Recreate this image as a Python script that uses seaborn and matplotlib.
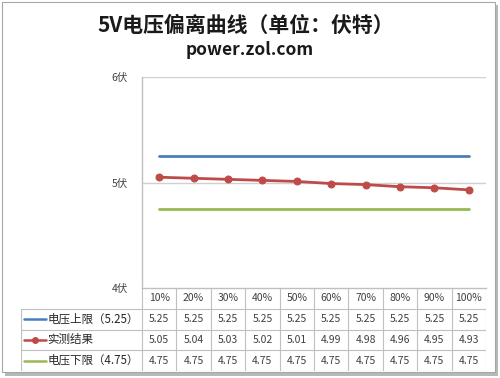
import pandas as pd
import seaborn as sns
import matplotlib.pyplot as plt
from matplotlib.patches import Rectangle
from matplotlib.lines import Line2D

sns.set_style("white")
plt.rcParams['font.family'] = ['Noto Sans CJK SC', 'DejaVu Sans']

# data
loads = ['10%', '20%', '30%', '40%', '50%', '60%', '70%', '80%', '90%', '100%']
upper = [5.25, 5.25, 5.25, 5.25, 5.25, 5.25, 5.25, 5.25, 5.25, 5.25]
measured = [5.05, 5.04, 5.03, 5.02, 5.01, 4.99, 4.98, 4.96, 4.95, 4.93]
lower = [4.75, 4.75, 4.75, 4.75, 4.75, 4.75, 4.75, 4.75, 4.75, 4.75]
series_names = ['电压上限（5.25）', '实测结果', '电压下限（4.75）']
yticks = [4, 5, 6]

colors = ['#4a7ebb', '#be4b48', '#98b954']
grid_c = '#d0d0d0'
text_c = '#404040'

W, H = 500, 378
fig = plt.figure(figsize=(W / 100, H / 100), dpi=100)

# background frame with shadow
bg = fig.add_axes([0, 0, 1, 1], zorder=-5)
bg.set_xlim(0, W)
bg.set_ylim(H, 0)
bg.axis('off')
bg.add_patch(Rectangle((5, 5), 493, 371, facecolor='#b8b8b8', edgecolor='none'))
bg.add_patch(Rectangle((2, 2), 493, 370, facecolor='white', edgecolor='#a6a6a6', lw=0.8))

fig.text(0.492, 1 - 25 / H, '5V电压偏离曲线（单位：伏特）', ha='center', va='center',
         fontsize=15, fontweight='bold', color='#1a1a1a')
fig.text(0.5, 1 - 50 / H, 'power.zol.com', ha='center', va='center',
         fontsize=12.5, fontweight='bold', color='#1a1a1a')

# main plot area
px_l, px_r, px_t, px_b = 142, 486, 77, 288
ax = fig.add_axes([px_l / W, 1 - px_b / H, (px_r - px_l) / W, (px_b - px_t) / H])
ax.patch.set_alpha(0)

df = pd.DataFrame({'x': range(len(loads)), 'upper': upper,
                   'measured': measured, 'lower': lower})
sns.lineplot(data=df, x='x', y='upper', color=colors[0], lw=2, ax=ax)
sns.lineplot(data=df, x='x', y='measured', color=colors[1], lw=2,
             marker='o', markersize=5, markeredgecolor=colors[1], ax=ax)
sns.lineplot(data=df, x='x', y='lower', color=colors[2], lw=2, ax=ax)

ax.set_xlim(-0.5, len(loads) - 0.5)
ax.set_ylim(4, 6)
ax.set_yticks(yticks)
ax.set_yticklabels([f'{v}伏' for v in yticks], fontsize=7.5, color=text_c)
ax.set_xticks([])
ax.set_xlabel('')
ax.set_ylabel('')
ax.tick_params(axis='y', length=0, pad=10)
for y in yticks[1:]:
    ax.axhline(y, color=grid_c, lw=1, zorder=0)
for s in ['top', 'right']:
    ax.spines[s].set_visible(False)
for s in ['left', 'bottom']:
    ax.spines[s].set_color('#bfbfbf')
    ax.spines[s].set_linewidth(1)

# data table below the plot
col_w = (px_r - px_l) / len(loads)
tb_l, tb_b = 21, 371
x0 = -0.5 - (px_l - tb_l) / col_w
tax = fig.add_axes([tb_l / W, 1 - tb_b / H, (px_r - tb_l) / W, (tb_b - px_b) / H])
tax.set_xlim(x0, len(loads) - 0.5)
tax.set_ylim(4, 0)
tax.axis('off')

line_kw = dict(color='#c0c0c0', lw=0.8)
for r in range(1, 5):
    tax.plot([x0, len(loads) - 0.5], [r, r], **line_kw)
for k in range(len(loads) + 1):
    tax.plot([k - 0.5, k - 0.5], [0, 4], **line_kw)
tax.plot([x0, x0], [1, 4], **line_kw)

for i, lab in enumerate(loads):
    tax.text(i, 0.5, lab, ha='center', va='center', fontsize=7.5, color=text_c)

rows = [upper, measured, lower]
for r, (name, vals) in enumerate(zip(series_names, rows)):
    yc = r + 1.5
    ls, le = x0 + 0.09, x0 + 0.72
    tax.add_line(Line2D([ls, le], [yc, yc], color=colors[r], lw=1.8))
    if r == 1:
        tax.plot([(ls + le) / 2], [yc], 'o', color=colors[r], markersize=4)
    tax.text(x0 + 0.76, yc, name, ha='left', va='center', fontsize=8.3, color='#262626')
    for i, v in enumerate(vals):
        tax.text(i, yc, f'{v:.2f}', ha='center', va='center', fontsize=7.5, color=text_c)

fig.savefig('out.png', dpi=100)
